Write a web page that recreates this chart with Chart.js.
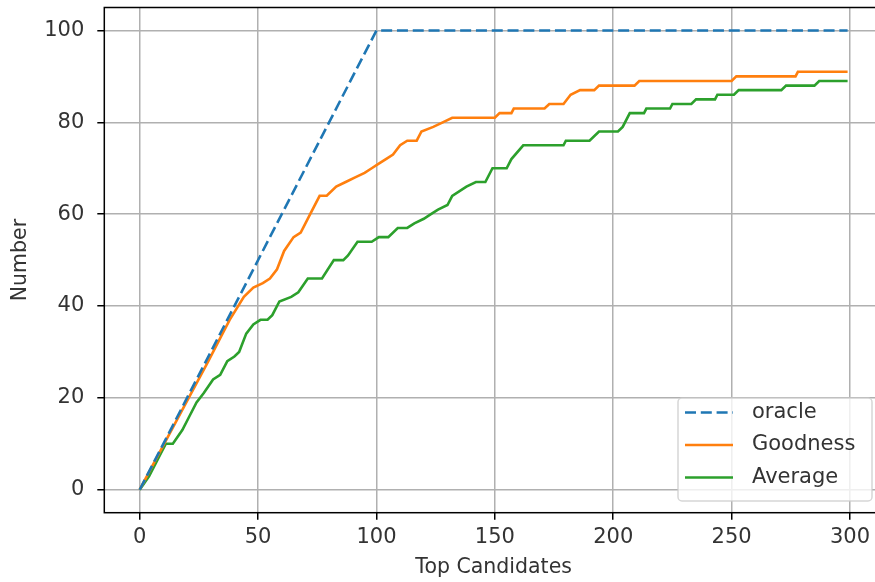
<html lang="en">
<head>
  <meta charset="utf-8">
  <title>Top Candidates</title>
  <style>
    body { margin: 0; overflow: hidden; background: #fff; }
  </style>
</head>
<body>
  <canvas id="myChart" width="883" height="582"></canvas>
  <script src="https://cdn.jsdelivr.net/npm/chart.js"></script>
  <script>
    // values (corners of the step curves)
    const oracleX = [0, 100, 299]
    const oracleY = [0, 100, 100]

    const goodnessX = [0, 29, 34, 38, 44, 48, 52, 55, 58, 61, 65, 68, 72, 76, 79, 83, 87, 91, 95, 98,
      101, 104, 107, 110, 113, 117, 119, 124, 128, 132, 150, 152, 157, 158, 171, 173, 179, 182, 186, 192,
      194, 209, 211, 250, 252, 277, 278, 299]
    const goodnessY = [0, 28, 33, 37, 42, 44, 45, 46, 48, 52, 55, 56, 60, 64, 64, 66, 67, 68, 69, 70,
      71, 72, 73, 75, 76, 76, 78, 79, 80, 81, 81, 82, 82, 83, 83, 84, 84, 86, 87, 87,
      88, 88, 89, 89, 90, 90, 91, 91]

    const averageX = [0, 4, 8, 11, 14, 18, 21, 24, 27, 31, 34, 37, 40, 42, 45, 48, 51, 54, 56, 59,
      64, 67, 71, 77, 82, 86, 88, 92, 98, 101, 105, 109, 113, 116, 120, 123, 126, 130, 132, 138,
      142, 146, 149, 155, 157, 162, 179, 180, 190, 194, 202, 204, 207, 213, 214, 224, 225, 233, 235, 243,
      244, 251, 253, 271, 273, 285, 287, 299]
    const averageY = [0, 3, 7, 10, 10, 13, 16, 19, 21, 24, 25, 28, 29, 30, 34, 36, 37, 37, 38, 41,
      42, 43, 46, 46, 50, 50, 51, 54, 54, 55, 55, 57, 57, 58, 59, 60, 61, 62, 64, 66,
      67, 67, 70, 70, 72, 75, 75, 76, 76, 78, 78, 79, 82, 82, 83, 83, 84, 84, 85, 85,
      86, 86, 87, 87, 88, 88, 89, 89]

    const xTicks = [0, 50, 100, 150, 200, 250, 300]
    const yTicks = [0, 20, 40, 60, 80, 100]

    const toPoints = (xs, ys) => xs.map((x, i) => ({ x: x, y: ys[i] }))

    const FONT = { family: 'DejaVu Sans', size: 21 }
    const TITLE_FONT = { family: 'DejaVu Sans', size: 20.5 }
    const TEXT = '#333'

    // matplotlib style legend box inside the axes + full frame
    const framePlugin = {
      id: 'frame',
      afterDraw(chart) {
        const ctx = chart.ctx
        const a = chart.chartArea
        ctx.save()
        ctx.strokeStyle = '#000'
        ctx.lineWidth = 1.5
        ctx.strokeRect(a.left, a.top, a.right - a.left, a.bottom - a.top)

        // legend
        const bx = 678, by = 398, bw = 194, bh = 103, r = 4
        ctx.beginPath()
        ctx.roundRect(bx, by, bw, bh, r)
        ctx.fillStyle = 'rgba(255,255,255,0.8)'
        ctx.fill()
        ctx.strokeStyle = 'rgba(204,204,204,0.8)'
        ctx.lineWidth = 1.5
        ctx.stroke()

        chart.data.datasets.forEach((ds, i) => {
          const y = 412.5 + i * 32.5
          ctx.beginPath()
          ctx.setLineDash(ds.borderDash || [])
          ctx.strokeStyle = ds.borderColor
          ctx.lineWidth = ds.borderWidth
          ctx.moveTo(685, y)
          ctx.lineTo(733, y)
          ctx.stroke()
          ctx.setLineDash([])
          ctx.fillStyle = TEXT
          ctx.font = FONT.size + 'px ' + FONT.family
          ctx.textBaseline = 'middle'
          ctx.textAlign = 'left'
          ctx.fillText(ds.label, 752, y)
        })
        ctx.restore()
      }
    }

    function renderChart() {
      const ctx = document.getElementById('myChart')
      new Chart(ctx, {
        type: 'line',
        data: {
          datasets: [{
            label: 'oracle',
            data: toPoints(oracleX, oracleY),
            borderColor: '#1f77b4',
            borderDash: [11, 4.8],
            borderWidth: 2.6
          },
          {
            label: 'Goodness',
            data: toPoints(goodnessX, goodnessY),
            borderColor: '#ff7f0e',
            borderWidth: 2.6
          },
          {
            label: 'Average',
            data: toPoints(averageX, averageY),
            borderColor: '#2ca02c',
            borderWidth: 2.6
          }]
        },
        options: {
          responsive: false,
          animation: false,
          devicePixelRatio: 1,
          layout: { padding: { top: 7.5, right: 0, left: 0, bottom: 0 } },
          elements: { point: { radius: 0 }, line: { tension: 0 } },
          plugins: { legend: { display: false }, tooltip: { enabled: false } },
          scales: {
            x: {
              type: 'linear',
              min: -14.95,
              max: 313.95,
              afterBuildTicks: axis => { axis.ticks = xTicks.map(v => ({ value: v })) },
              afterFit: axis => { axis.height = 69.3; axis.paddingLeft = 0; axis.paddingRight = 0 },
              ticks: { font: FONT, color: TEXT, padding: 5, maxRotation: 0 },
              grid: { color: '#b0b0b0', lineWidth: 1.5, tickLength: 7, tickColor: '#000', tickWidth: 1.5 },
              border: { display: false },
              title: { display: true, text: 'Top Candidates', font: TITLE_FONT, color: TEXT, padding: { bottom: 2 } }
            },
            y: {
              min: -5,
              max: 105,
              afterBuildTicks: axis => { axis.ticks = yTicks.map(v => ({ value: v })) },
              afterFit: axis => { axis.width = 104.3; axis.paddingTop = 0; axis.paddingBottom = 0 },
              ticks: { font: FONT, color: TEXT, padding: 13 },
              grid: { color: '#b0b0b0', lineWidth: 1.5, tickLength: 7, tickColor: '#000', tickWidth: 1.5 },
              border: { display: false },
              title: { display: true, text: 'Number', font: TITLE_FONT, color: TEXT, padding: { top: 8 } }
            }
          }
        },
        plugins: [framePlugin]
      })
    }
    window.onload = renderChart
  </script>
</body>
</html>
